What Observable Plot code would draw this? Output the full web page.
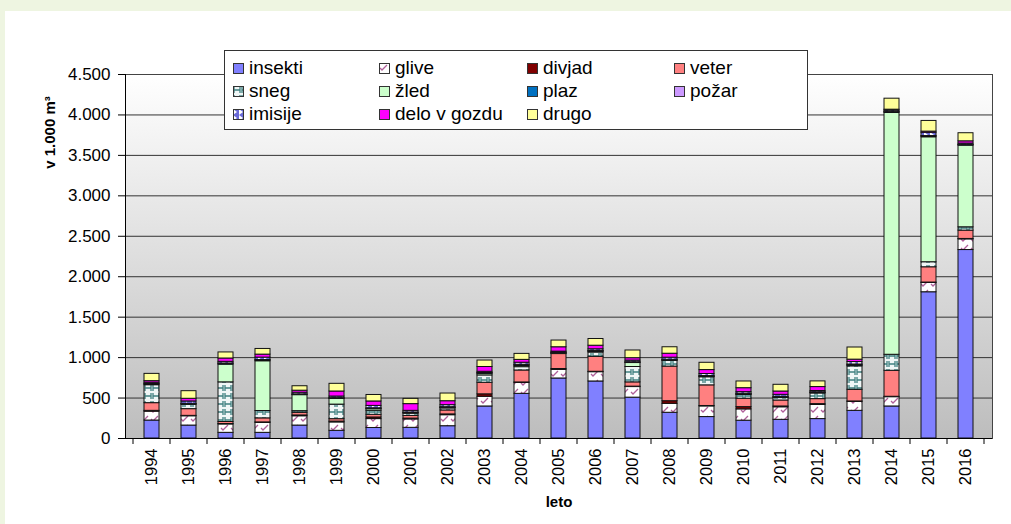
<!DOCTYPE html>
<html><head><meta charset="utf-8">
<script src="https://cdn.jsdelivr.net/npm/d3@7"></script>
<script src="https://cdn.jsdelivr.net/npm/@observablehq/plot@0.6"></script>
<style>
html,body{margin:0;padding:0;background:#eef5e1;width:1011px;height:524px;overflow:hidden;font-family:"Liberation Sans",Arial,sans-serif;}
#panel{position:absolute;left:5px;top:11px;width:1006px;height:513px;background:#fff;}
#chart{position:absolute;left:0;top:0;}
#legend{position:absolute;left:224px;top:50px;width:582px;height:78px;background:#fff;border:1px solid #333;}
.item{position:absolute;display:flex;align-items:center;font-size:19px;line-height:20px;color:#000;white-space:nowrap;}
.item svg{margin-right:5px;display:block}
</style></head><body>
<div id="panel"></div><div id="chart"></div><div id="legend"></div>
<script>
const years = [1994,1995,1996,1997,1998,1999,2000,2001,2002,2003,2004,2005,2006,2007,2008,2009,2010,2011,2012,2013,2014,2015,2016];
const causes = ["insekti","glive","divjad","veter","sneg","žled","plaz","požar","imisije","delo v gozdu","drugo"];
const insekti = [222,160,70,70,160,95,130,132,152,396,552,742,705,505,318,265,220,231,240,342,396,1808,2330];
const glive   = [110,115,104,124,115,104,110,104,136,120,136,107,115,131,111,132,140,155,175,111,115,115,132];
const divjad  = [10,5,5,5,10,10,20,10,10,30,5,10,5,5,32,5,28,10,10,5,5,5,5];
const veter   = [95,83,25,50,33,30,33,33,49,143,148,185,185,53,428,255,104,74,62,144,321,189,103];
const sneg    = [222,55,490,91,20,180,50,28,25,91,41,5,53,190,70,100,46,30,70,290,198,62,41];
const zled    = [0,0,219,615,198,70,20,5,5,20,15,5,10,49,5,5,5,5,5,8,2990,1545,1010];
const plaz    = [10,5,10,10,5,5,5,5,5,5,10,5,5,5,5,5,5,5,5,10,10,10,5];
const pozar   = [5,5,5,5,5,5,5,5,5,5,5,5,5,5,5,5,5,5,5,5,5,5,5];
const imisije = [15,30,20,30,20,20,30,20,25,15,25,10,20,20,25,25,20,25,15,30,15,40,15];
const delo    = [20,33,41,37,25,62,55,83,49,59,35,54,44,30,49,49,49,41,49,30,10,15,28];
const drugo   = [90,94,75,70,55,95,80,65,95,80,74,83,83,95,80,90,83,83,70,150,136,132,100];
const series = [insekti,glive,divjad,veter,sneg,zled,plaz,pozar,imisije,delo,drugo];
const fills = ["#8080ff","url(#pGlive)","#800000","#ff8080","url(#pSneg)","#ccffcc","#0070c0","#cc99ff","url(#pImisije)","#ff00ff","#ffff99"];
const yTicks = [0,500,1000,1500,2000,2500,3000,3500,4000,4500];

const rows = [];
years.forEach((yr, i) => causes.forEach((c, k) => {
  const v = series[k][i];
  if (v > 0) rows.push({year: yr, cause: c, value: v});
}));

const loc = d3.formatLocale({decimal: ",", thousands: ".", grouping: [3], currency: ["", ""]});
const fmt = loc.format(",");

const plot = Plot.plot({
  width: 1011, height: 524,
  marginLeft: 125, marginRight: 19, marginTop: 74, marginBottom: 86,
  style: {background: "transparent", fontFamily: "'Liberation Sans', Arial, sans-serif", color: "#000"},
  x: {type: "band", domain: years, paddingInner: 0.6, paddingOuter: 0.3, align: 0.5},
  y: {domain: [0, 4500]},
  color: {type: "ordinal", domain: causes, range: fills},
  marks: [
    Plot.frame({fill: "url(#bgGrad)"}),
    Plot.gridY(yTicks, {stroke: "#333", strokeOpacity: 1, strokeWidth: 1}),
    Plot.barY(rows, {x: "year", y: "value", fill: "cause", order: causes, stroke: "#111", strokeWidth: 1}),
    Plot.frame({stroke: "#444"}),
    Plot.ruleY([0], {stroke: "#000"}),
    Plot.frame({anchor: "left", stroke: "#000"}),
    Plot.axisY(yTicks, {tickFormat: fmt, tickSize: 7, tickPadding: 8, fontSize: 17, label: null}),
    Plot.axisX({tickSize: 0, tickRotate: -90, tickPadding: 10, fontSize: 16.5, label: null, tickFormat: d => String(d)}),
    Plot.text(["leto"], {text: d => d, frameAnchor: "bottom", dy: 68, fontSize: 15, fontWeight: "bold"}),
    Plot.text(["v 1.000 m³"], {text: d => d, frameAnchor: "top-left", dx: -81, dy: 58, rotate: -90, fontSize: 15, fontWeight: "bold", textAnchor: "middle"})
  ]
});

const svg = d3.select(plot);
const defs = svg.insert("defs", ":first-child");
const g = defs.append("linearGradient").attr("id", "bgGrad").attr("x1", 0).attr("y1", 0).attr("x2", 0).attr("y2", 1);
g.append("stop").attr("offset", "0%").attr("stop-color", "#ffffff");
g.append("stop").attr("offset", "100%").attr("stop-color", "#bdbdbd");
const pg = defs.append("pattern").attr("id", "pGlive").attr("patternUnits", "userSpaceOnUse").attr("width", 10).attr("height", 9);
pg.append("rect").attr("width", 10).attr("height", 9).attr("fill", "#fff");
pg.append("path").attr("d", "M1,5 L3,7 L8,2").attr("fill", "none").attr("stroke", "#b05f9a").attr("stroke-width", 1.3);
const ps = defs.append("pattern").attr("id", "pSneg").attr("patternUnits", "userSpaceOnUse").attr("width", 8).attr("height", 8);
ps.append("rect").attr("width", 8).attr("height", 8).attr("fill", "#f0f6f6");
ps.append("path").attr("d", "M1,1 V7 M7,1 V7 M1,4 H7").attr("fill", "none").attr("stroke", "#3f8080").attr("stroke-width", 1.3);
const pi = defs.append("pattern").attr("id", "pImisije").attr("patternUnits", "userSpaceOnUse").attr("width", 6).attr("height", 6);
pi.append("rect").attr("width", 6).attr("height", 6).attr("fill", "#6a6ad8");
pi.append("path").attr("d", "M0,0 L4,3 L0,6 Z").attr("fill", "#fff");

// category boundary ticks on the x axis
const xs = plot.scale("x"), ys = plot.scale("y");
const y0 = ys.apply(0);
const bounds = years.map(yr => xs.apply(yr) + xs.bandwidth / 2 - xs.step / 2);
bounds.push(xs.apply(years[years.length - 1]) + xs.bandwidth / 2 + xs.step / 2);
svg.append("g").selectAll("line").data(bounds).join("line")
  .attr("x1", d => d).attr("x2", d => d).attr("y1", y0).attr("y2", y0 + 6)
  .attr("stroke", "#000");

document.getElementById("chart").appendChild(plot);

// legend
const legend = document.getElementById("legend");
const colLeft = [8, 154, 302, 449];
causes.forEach((c, k) => {
  const col = k % 4, row = Math.floor(k / 4);
  const div = document.createElement("div");
  div.className = "item";
  div.style.left = colLeft[col] + "px";
  div.style.top = (7 + row * 23) + "px";
  div.innerHTML = `<svg width="11" height="11"><rect x="0.5" y="0.5" width="10" height="10" fill="${fills[k]}" stroke="#333"/></svg><span>${c}</span>`;
  legend.appendChild(div);
});
</script>
</body></html>
